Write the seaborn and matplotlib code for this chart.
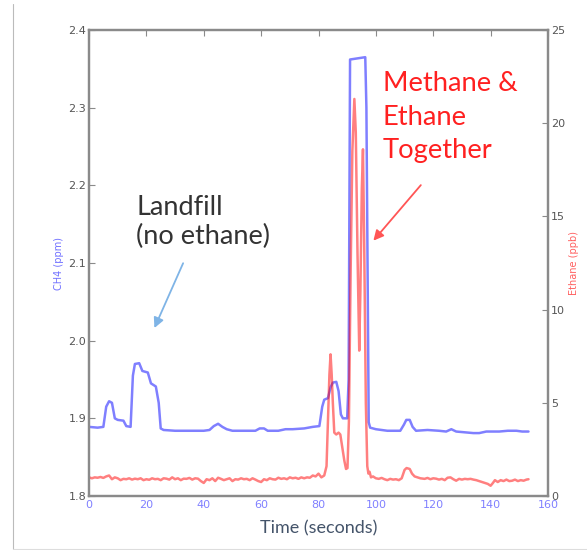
import numpy as np
import pandas as pd
import matplotlib
matplotlib.use("Agg")
import matplotlib.pyplot as plt
from matplotlib.lines import Line2D
import seaborn as sns

# ---- data ----
ch4_time = [0, 3, 5, 6, 7, 8, 9, 10, 12, 13, 14.5, 15.3, 16, 17.5, 18.6, 20.5, 21.6, 23.3,
            24.3, 25, 26, 30, 35, 40, 42, 43.5, 45, 46.5, 48, 50, 55, 58, 59.5, 61, 62.3,
            66, 68.5, 71, 75, 78, 80.3, 81.3, 82, 83.3, 84.2, 85, 86.2, 87, 87.8, 88.5,
            90, 90.5, 91.0, 96.3, 96.7, 97.5, 98, 100, 104, 108.5, 109.8, 110.6, 111.8,
            112.8, 114, 118, 122, 124.5, 126.3, 128, 131, 134, 136, 138.5, 143, 146, 149,
            151, 153.2]
ch4_ppm = [1.889, 1.888, 1.889, 1.915, 1.922, 1.920, 1.900, 1.898, 1.897, 1.890, 1.889,
           1.955, 1.970, 1.971, 1.961, 1.959, 1.945, 1.941, 1.920, 1.887, 1.885, 1.884,
           1.884, 1.884, 1.885, 1.890, 1.893, 1.889, 1.886, 1.884, 1.884, 1.884, 1.887,
           1.887, 1.884, 1.884, 1.886, 1.886, 1.887, 1.889, 1.890, 1.915, 1.924, 1.926,
           1.940, 1.946, 1.947, 1.935, 1.905, 1.900, 1.900, 1.950, 2.362, 2.365, 2.300,
           1.895, 1.888, 1.886, 1.884, 1.884, 1.892, 1.898, 1.898, 1.889, 1.884, 1.885,
           1.884, 1.883, 1.886, 1.883, 1.882, 1.881, 1.881, 1.883, 1.883, 1.884, 1.884,
           1.883, 1.883]

eth_time = [0, 1, 2, 3, 4, 5, 6, 7, 8, 9, 10, 11, 12, 13, 14, 15, 16, 17, 18, 19, 20, 21,
            22, 23, 24, 25, 26, 27, 28, 29, 30, 31, 32, 33, 34, 35, 36, 37, 38, 39, 40, 41,
            42, 43, 44, 45, 46, 47, 48, 49, 50, 51, 52, 53, 54, 55, 56, 57, 58, 59, 60, 61,
            62, 63, 64, 65, 66, 67, 68, 69, 70, 71, 72, 73, 74, 75, 76, 77, 78, 79, 80, 81,
            82, 82.8, 83.3, 83.8, 84.2, 84.6, 85.0, 85.5, 86.2, 87.0, 87.6, 88.3, 89.0,
            89.6, 90.1, 90.6, 91.2, 91.8, 92.5, 93.0, 93.6, 94.2, 94.6, 95.1, 95.5, 95.9,
            96.5, 97.0, 97.4, 97.8, 98.3, 99, 100, 101, 102, 103, 104, 105, 106, 107, 108,
            109, 110, 110.7, 111.8, 112.6, 113.5, 114.5, 115.5, 117, 118, 119, 120, 121,
            122, 123, 124, 125, 126, 127, 128, 129, 130, 131, 132, 133, 134, 135, 136, 137,
            138, 139, 140, 140.8, 141.5, 142.5, 143.5, 144.5, 145.5, 146.5, 147.5, 148.5,
            149.5, 150.5, 151.5, 152.5, 153.2]
eth_ppb = [1.0, 0.95, 1.0, 0.98, 1.02, 0.97, 1.05, 1.1, 0.9, 1.0, 0.95, 0.85, 0.92, 0.9,
           0.95, 0.88, 0.93, 0.9, 0.95, 0.85, 0.9, 0.87, 0.95, 0.9, 0.92, 0.85, 0.95, 0.93,
           0.88, 1.0, 0.9, 0.95, 0.85, 0.93, 0.92, 0.97, 0.88, 0.95, 0.93, 0.8, 0.7, 0.9,
           0.85, 0.95, 0.8, 0.98, 0.92, 0.85, 0.9, 0.95, 0.8, 0.9, 0.88, 0.95, 0.9, 0.92,
           0.85, 0.95, 0.88, 0.8, 0.75, 0.9, 0.85, 0.95, 0.9, 0.88, 0.98, 0.92, 0.95, 0.9,
           1.0, 0.95, 0.98, 0.92, 1.0, 0.95, 1.0, 0.98, 1.1, 1.05, 1.2, 1.0, 1.1, 1.6, 4.0,
           6.5, 7.6, 6.5, 5.0, 3.4, 3.3, 3.4, 3.3, 2.6, 1.9, 1.45, 1.5, 4.0, 12.0, 18.5,
           21.3, 19.5, 13.0, 7.8, 11.0, 16.5, 18.6, 14.0, 5.0, 1.6, 1.2, 1.3, 1.0, 1.05,
           0.95, 0.92, 0.97, 0.9, 0.85, 0.92, 0.88, 0.9, 0.85, 0.95, 1.4, 1.5, 1.45, 1.2,
           1.05, 1.0, 0.95, 0.92, 0.97, 0.9, 0.95, 0.93, 0.88, 0.92, 0.85, 0.98, 1.0, 0.9,
           0.82, 0.92, 0.88, 0.92, 0.9, 0.92, 0.88, 0.85, 0.8, 0.75, 0.7, 0.65, 0.55, 0.7,
           0.85, 0.75, 0.85, 0.8, 0.88, 0.8, 0.82, 0.88, 0.8, 0.85, 0.82, 0.88, 0.9]

x_ticks = [0, 20, 40, 60, 80, 100, 120, 140, 160]
ch4_ticks = [1.8, 1.9, 2.0, 2.1, 2.2, 2.3, 2.4]
eth_ticks = [0, 5, 10, 15, 20, 25]

landfill_text = "Landfill\n(no ethane)"
mixed_text = "Methane &\nEthane\nTogether"

# ---- styling ----
sns.set_style("white")
plt.rcParams['font.family'] = ['DejaVu Sans']

df_ch4 = pd.DataFrame({"t": ch4_time, "v": ch4_ppm})
df_eth = pd.DataFrame({"t": eth_time, "v": eth_ppb})

fig = plt.figure(figsize=(5.87, 5.5), dpi=100)
ax = fig.add_axes([89 / 587, 54 / 550, (548 - 89) / 587, (496 - 30) / 550])
ax2 = ax.twinx()

sns.lineplot(data=df_ch4, x="t", y="v", ax=ax, color="blue", alpha=0.5, lw=1.8,
             sort=False, estimator=None)
sns.lineplot(data=df_eth, x="t", y="v", ax=ax2, color="red", alpha=0.5, lw=1.8,
             sort=False, estimator=None)

ax.set_xlim(0, 160)
ax.set_ylim(1.8, 2.4)
ax2.set_ylim(0, 25)
ax.set_xticks(x_ticks)
ax.set_yticks(ch4_ticks)
ax2.set_yticks(eth_ticks)
ax.set_yticklabels([f"{v:.1f}" for v in ch4_ticks])
ax2.set_yticklabels([str(v) for v in eth_ticks])

for a in (ax, ax2):
    for s in a.spines.values():
        s.set_color("#8a8a8a")
        s.set_linewidth(1.6)

ax.tick_params(axis="both", direction="in", length=4, width=0.8, color="#8a8a8a",
               labelsize=8, top=True, right=False, pad=2)
ax.tick_params(axis="y", labelcolor="#555555")
ax.tick_params(axis="x", labelcolor="#8080ff", pad=3)
ax2.tick_params(axis="y", direction="in", length=4, width=0.8, color="#8a8a8a",
                labelsize=8, labelcolor="#555555", pad=2)

ax.set_ylabel("CH4 (ppm)", color="#7070ff", fontsize=7, labelpad=3)
ax2.set_ylabel("Ethane (ppb)", color="#ff6060", fontsize=7, labelpad=3)
ax.set_xlabel("Time (seconds)", color="#44546A", fontsize=13, family="Lato",
              labelpad=7)

ax.annotate("", xy=(22.4, 2.013), xytext=(33.2, 2.103),
            arrowprops=dict(arrowstyle="-|>,head_length=0.6,head_width=0.3",
                            color="#7fb4e6", lw=1.3))
ax.text(16.4, 2.188, landfill_text, color="#333333", fontsize=19.5, family="Lato",
        ha="left", va="top", linespacing=1.2)

ax.annotate("", xy=(98.5, 2.126), xytext=(116.3, 2.203),
            arrowprops=dict(arrowstyle="-|>,head_length=0.6,head_width=0.3",
                            color="#ff5555", lw=1.3))
ax.text(102.4, 2.347, mixed_text, color="#ff2020", fontsize=19.7, family="Lato",
        ha="left", va="top", linespacing=1.43)

# faint frame lines of the original slide
fig.add_artist(Line2D([12.5 / 587, 12.5 / 587], [1 - 4 / 550, 1 / 550],
                      color="#bbbbbb", lw=0.8))
fig.add_artist(Line2D([12.5 / 587, 1], [1.5 / 550, 1.5 / 550],
                      color="#dddddd", lw=0.8))

fig.savefig("out.png", dpi=100)
